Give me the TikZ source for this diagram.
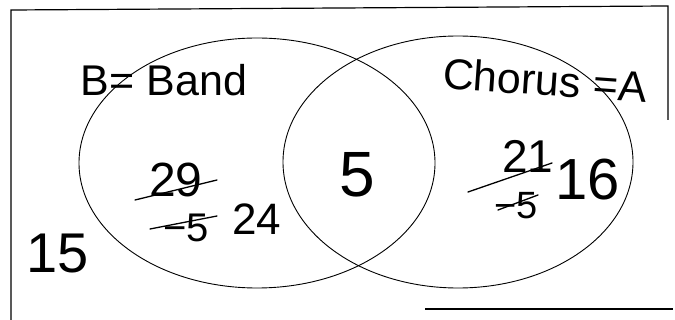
\documentclass[tikz,border=0pt]{standalone}
\usepackage{fontspec}
\setmainfont{Liberation Sans}
\usetikzlibrary{shapes.geometric,calc}
\begin{document}
\begin{tikzpicture}[x=1pt,y=-1pt, line width=0.9pt,
  hand/.style={inner sep=0pt, anchor=center},
  strike/.style={line width=1.3pt, line cap=round},
  frame/.style={line width=1.2pt},
  setshape/.style={draw, ellipse, inner sep=0pt, line width=0.9pt}]
\useasboundingbox (0,0) rectangle (675,320);
% frame (partly scanned)
\coordinate (f1) at (11,320);
\coordinate (f2) at (11,10);
\coordinate (f3) at (668,6);
\coordinate (f4) at (668,120);
\coordinate (f5) at (425,309);
\coordinate (f6) at (673,309);
\draw[frame] (f1) -- (f2) -- (f3) -- (f4);
\draw[frame] (f5) -- (f6);
% sets
\node[setshape, minimum width=356pt, minimum height=250pt] (band) at (257,163) {};
\node[setshape, minimum width=350pt, minimum height=252pt] (chorus) at (458,162) {};
% labels
\node[hand, font=\fontsize{43}{45}\selectfont] (lb) at (164,80) {B= Band};
\node[hand, font=\fontsize{43}{45}\selectfont, rotate=-4] (lc) at (545,80) {Chorus =A};
% numbers
\node[hand, font=\fontsize{64}{66}\selectfont] (both) at (357,175) {5};
\node[hand, font=\fontsize{56}{58}\selectfont] (none) at (58,254) {15};
\node[hand, font=\fontsize{48}{50}\selectfont] (b29) at (176,180) {29};
\node[hand, font=\fontsize{40}{42}\selectfont] (b5) at (186,228) {−5};
\node[hand, font=\fontsize{44}{46}\selectfont] (b24) at (257,219) {24};
\node[hand, font=\fontsize{46}{48}\selectfont] (c21) at (528,156) {21};
\node[hand, font=\fontsize{38}{40}\selectfont] (c5) at (516,206) {−5};
\node[hand, font=\fontsize{58}{60}\selectfont] (c16) at (588,180) {16};
% strike-outs
\draw[strike] ($(b29)+(-41,20)$) -- ($(b29)+(41,0)$);
\draw[strike] ($(b5)+(-36,1)$) -- ($(b5)+(31,-12)$);
\draw[strike] ($(c21)+(-60,36)$) -- ($(c21)+(24,7)$);
\draw[strike] ($(c5)+(-18,4)$) -- ($(c5)+(22,-11)$);
\end{tikzpicture}
\end{document}
